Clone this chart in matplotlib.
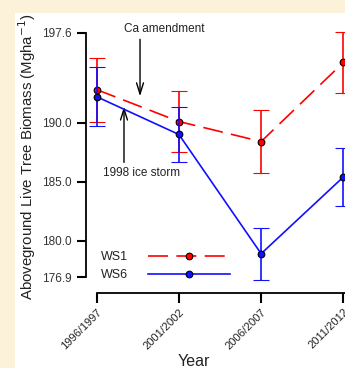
import matplotlib
matplotlib.use("Agg")
import matplotlib.pyplot as plt
from matplotlib.lines import Line2D
from matplotlib.patches import Rectangle

plt.rcParams['font.family'] = ['Liberation Sans', 'DejaVu Sans']

# ---- data ----
years = ["1996/1997", "2001/2002", "2006/2007", "2011/2012"]
ws1_mean = [192.8, 190.1, 188.4, 195.1]
ws1_err = [2.7, 2.6, 2.65, 2.55]
ws6_mean = [192.2, 189.0, 178.9, 185.4]
ws6_err = [2.5, 2.35, 2.2, 2.45]
yticks = [176.9, 180.0, 185.0, 190.0, 197.6]
series_labels = ["WS1", "WS6"]

RED = "#FF0000"
BLUE = "#1010FF"
BEIGE = "#FCF2DA"
TXT = "#222222"

fig = plt.figure(figsize=(3.45, 3.68), dpi=100)
fig.patch.set_facecolor(BEIGE)
fig.patches.append(Rectangle((15/345, 0), 1, (368-13)/368, transform=fig.transFigure,
                             facecolor="white", edgecolor="none", zorder=-5))

ax = fig.add_axes([86/345, (368-293)/368, 1 - 86/345, (293-20)/368])
ax.set_facecolor("none")
x = list(range(len(years)))

ax.errorbar(x, ws1_mean, yerr=ws1_err, color=RED, lw=1.2, capsize=5.8, capthick=1.2,
            marker='o', ms=4.8, mfc=RED, mec='black', mew=0.8, dashes=(12, 5),
            clip_on=False, zorder=3)
ax.errorbar(x, ws6_mean, yerr=ws6_err, color=BLUE, lw=1.2, capsize=5.8, capthick=1.2,
            marker='o', ms=4.8, mfc=BLUE, mec='black', mew=0.8,
            clip_on=False, zorder=4)

ax.set_xlim(-0.13, 3.02)
ax.set_ylim(175.57, 198.7)

for s in ['top', 'right']:
    ax.spines[s].set_visible(False)
ax.spines['left'].set_bounds(yticks[0], yticks[-1])
ax.spines['bottom'].set_bounds(0, 3.02)
ax.spines['left'].set_linewidth(1.3)
ax.spines['bottom'].set_linewidth(1.3)

ax.set_yticks(yticks)
ax.set_yticklabels([f"{v:.1f}" for v in yticks], fontsize=8.5, color="#333333")
ax.set_xticks(x)
ax.set_xticklabels(years, fontsize=8, rotation=45, ha='right', va='top',
                   rotation_mode='anchor', color=TXT)
ax.tick_params(axis='y', length=6.5, width=1.5, pad=3.5)
ax.tick_params(axis='x', length=7, width=1.5, pad=3)

# annotations
ax.annotate('', xy=(0.527, 192.0), xytext=(0.527, 197.3),
            arrowprops=dict(arrowstyle='->,head_length=0.8,head_width=0.25', lw=1.0, color='black'))
ax.text(0.816, 197.95, "Ca amendment", fontsize=8.5, ha='center', va='center', color=TXT)
ax.annotate('', xy=(0.332, 191.6), xytext=(0.332, 186.4),
            arrowprops=dict(arrowstyle='->,head_length=0.8,head_width=0.25', lw=1.0, color='black'))
ax.text(0.54, 185.7, "1998 ice storm", fontsize=8.5, ha='center', va='center', color=TXT)

handles = [
    Line2D([], [], color=RED, lw=1.2, dashes=(12, 5), marker='o', ms=4.8, mfc=RED, mec='black', mew=0.8),
    Line2D([], [], color=BLUE, lw=1.2, marker='o', ms=4.8, mfc=BLUE, mec='black', mew=0.8),
]
leg = ax.legend(handles, series_labels, markerfirst=False, frameon=False, fontsize=9,
                handlelength=6.5, handletextpad=1.6, labelspacing=0.45, borderpad=0,
                loc='upper left', bbox_to_anchor=(95/345, 1 - 245/368),
                bbox_transform=fig.transFigure)
for t in leg.get_texts():
    t.set_color(TXT)

fig.text(27/345, 1 - 157/368, "Aboveground Live Tree Biomass (Mgha$^{-1}$)", rotation=90,
         ha='center', va='center', fontsize=10.8, color=TXT)
fig.text(194/345, 1 - 362/368, "Year", ha='center', va='center', fontsize=11.5, color=TXT)

fig.savefig("out.png", dpi=100, facecolor=fig.get_facecolor())
